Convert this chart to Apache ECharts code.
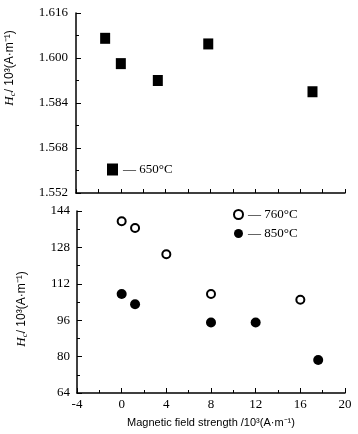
<!DOCTYPE html>
<html><head><meta charset="utf-8">
<script src="https://cdn.jsdelivr.net/npm/echarts@6/dist/echarts.min.js"></script>
<style>html,body{margin:0;padding:0;background:#fff}#c{width:358px;height:434px}</style>
</head><body><div id="c"></div>
<script>
// Data
var xTicks = [-4, 0, 4, 8, 12, 16, 20];
var topTicks = [1.552, 1.568, 1.584, 1.600, 1.616];
var botTicks = [64, 80, 96, 112, 128, 144];
var x650 = [-1.4, 0, 3.3, 7.8, 17.1];
var hc650 = [1.607, 1.598, 1.592, 1.605, 1.588];
var x760 = [0, 1.2, 4, 8, 16];
var hc760 = [139.5, 136.5, 125, 107.5, 105];
var x850 = [0, 1.2, 8, 12, 17.6];
var hc850 = [107.5, 103, 95, 95, 78.5];
var names = ['650°C', '760°C', '850°C'];

function pairs(xs, ys){ return xs.map(function(x,i){return [x, ys[i]];}); }
var serif = 'Liberation Serif';
var axisLine = {onZero:false, lineStyle:{color:'#000', width:1.5}};
var chart = echarts.init(document.getElementById('c'));
var rich = {h:{fontFamily:serif,fontStyle:'italic',fontSize:13,color:'#000'},
            c:{fontFamily:serif,fontStyle:'italic',fontSize:9,color:'#000',padding:[6,0,0,0]},
            t:{fontFamily:'Liberation Sans',fontSize:12,color:'#000'}};
chart.setOption({
  animation:false,
  grid:[{left:76, top:13, width:269, height:180},
        {left:77, top:211, width:268, height:182}],
  xAxis:[
    {gridIndex:0, type:'value', min:xTicks[0], max:xTicks[xTicks.length-1], interval:2,
     axisLine:axisLine, axisTick:{inside:true, length:4, lineStyle:{color:'#000'}},
     axisLabel:{show:false}, splitLine:{show:false}},
    {gridIndex:1, type:'value', min:xTicks[0], max:xTicks[xTicks.length-1], interval:4,
     axisLine:axisLine, axisTick:{inside:true, length:5, lineStyle:{color:'#000'}},
     minorTick:{show:true, splitNumber:2, length:3, lineStyle:{color:'#000'}},
     axisLabel:{fontFamily:serif, fontSize:13, color:'#000', margin:5, showMinLabel:true, showMaxLabel:true},
     splitLine:{show:false},
     name:'Magnetic field strength /10³(A·m⁻¹)', nameLocation:'middle', nameGap:24,
     nameTextStyle:{fontFamily:'Liberation Sans', fontSize:11, color:'#000'}}
  ],
  yAxis:[
    {gridIndex:0, type:'value', min:topTicks[0], max:topTicks[topTicks.length-1], interval:0.016,
     axisLine:axisLine, axisTick:{inside:true, length:5, lineStyle:{color:'#000'}},
     minorTick:{show:true, splitNumber:2, length:3, lineStyle:{color:'#000'}},
     axisLabel:{fontFamily:serif, fontSize:13, color:'#000', margin:8, formatter:function(v){return v.toFixed(3);}},
     splitLine:{show:false}},
    {gridIndex:1, type:'value', min:botTicks[0], max:botTicks[botTicks.length-1], interval:16,
     axisLine:axisLine, axisTick:{inside:true, length:5, lineStyle:{color:'#000'}},
     minorTick:{show:true, splitNumber:2, length:3, lineStyle:{color:'#000'}},
     axisLabel:{fontFamily:serif, fontSize:13, color:'#000', margin:7},
     splitLine:{show:false}}
  ],
  legend:[
    {data:[names[0]], left:102, top:158, itemWidth:11, itemHeight:12, itemGap:5,
     formatter:function(n){return '— '+n;},
     textStyle:{fontFamily:serif, fontSize:13, color:'#000'}},
    {data:[names[1], names[2]], orient:'vertical', left:228, top:203, itemWidth:9, itemHeight:9, itemGap:6,
     formatter:function(n){return '— '+n;},
     textStyle:{fontFamily:serif, fontSize:13, color:'#000'}}
  ],
  graphic:[
    {type:'text', x:10, y:68, rotation:Math.PI/2, style:{text:'{h|H}{c|c}{t|/ 10³(A·m⁻¹)}', rich:rich, align:'center', verticalAlign:'middle'}},
    {type:'text', x:22, y:309, rotation:Math.PI/2, style:{text:'{h|H}{c|c}{t|/ 10³(A·m⁻¹)}', rich:rich, align:'center', verticalAlign:'middle'}}
  ],
  series:[
    {name:names[0], type:'scatter', xAxisIndex:0, yAxisIndex:0, symbol:'rect', symbolSize:[10,11],
     itemStyle:{color:'#000', opacity:1}, data:pairs(x650, hc650)},
    {name:names[1], type:'scatter', xAxisIndex:1, yAxisIndex:1, symbol:'circle', symbolSize:8,
     itemStyle:{color:'#fff', borderColor:'#000', borderWidth:2, opacity:1}, data:pairs(x760, hc760)},
    {name:names[2], type:'scatter', xAxisIndex:1, yAxisIndex:1, symbol:'circle', symbolSize:10,
     itemStyle:{color:'#000', opacity:1}, data:pairs(x850, hc850)}
  ]
});
</script></body></html>
